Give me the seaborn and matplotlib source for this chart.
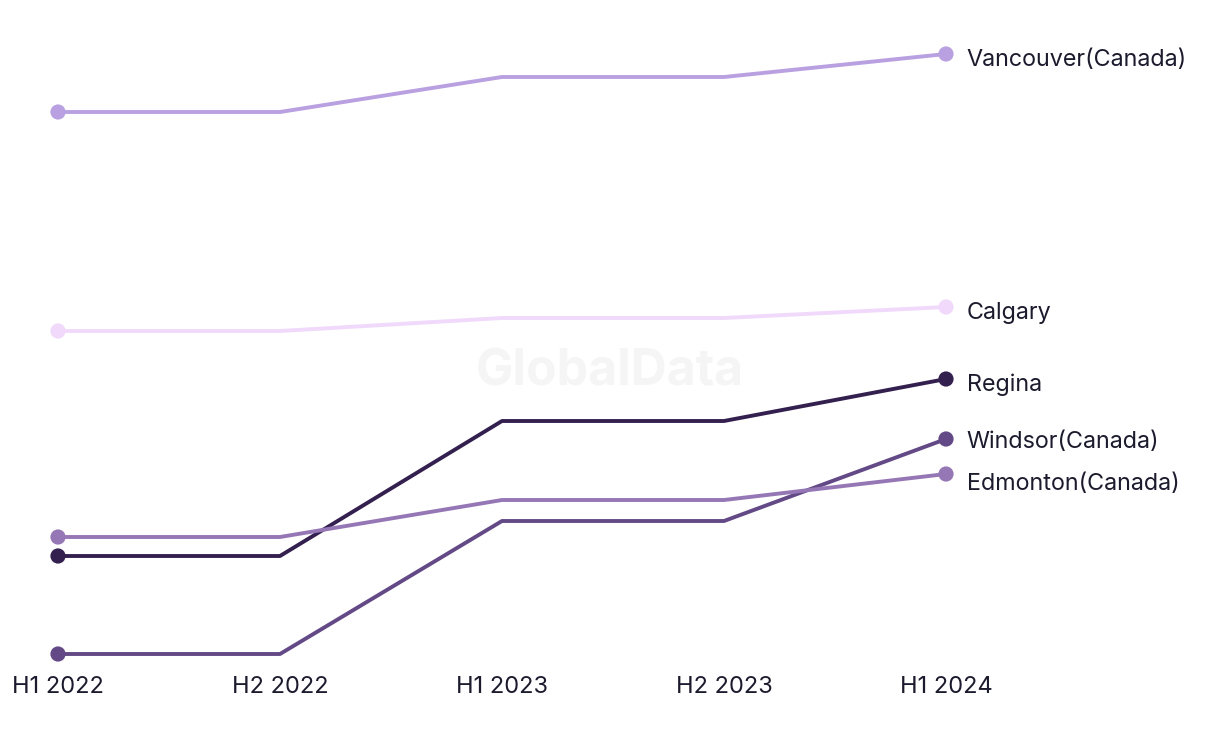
import matplotlib
matplotlib.use("Agg")
import matplotlib.pyplot as plt
import pandas as pd
import seaborn as sns

periods = ["H1 2022", "H2 2022", "H1 2023", "H2 2023", "H1 2024"]
cities = ["Vancouver(Canada)", "Calgary", "Regina", "Windsor(Canada)", "Edmonton(Canada)"]

vancouver = [58.8, 58.8, 62.3, 62.3, 64.6]
calgary = [36.9, 36.9, 38.2, 38.2, 39.3]
regina = [14.4, 14.4, 27.9, 27.9, 32.1]
windsor = [4.6, 4.6, 17.9, 17.9, 26.1]
edmonton = [16.3, 16.3, 20.0, 20.0, 22.6]

colors = {
    "Vancouver(Canada)": "#b9a0e0",
    "Calgary": "#f1d9fb",
    "Regina": "#34204f",
    "Windsor(Canada)": "#634a86",
    "Edmonton(Canada)": "#9677b6",
}
# vertical nudge of end labels (points), keeps close labels apart
label_dy = {"Windsor(Canada)": -2, "Edmonton(Canada)": -7.5}

series = [vancouver, calgary, regina, windsor, edmonton]
rows = []
for city, vals in zip(cities, series):
    for i, (p, v) in enumerate(zip(periods, vals)):
        rows.append({"city": city, "period": p, "x": i, "value": v})
df = pd.DataFrame(rows)

sns.set_style("white")
plt.rcParams["font.family"] = ["Inter", "DejaVu Sans"]

fig = plt.figure(figsize=(12.2, 7.44), dpi=100)
ax = fig.add_axes([58 / 1220, 90 / 744, 888 / 1220, 600 / 744])

# watermark
fig.text(0.5, 0.5, "GlobalData", ha="center", va="center", fontsize=36,
         fontweight="bold", color="#f5f5f5", zorder=0)

sns.lineplot(data=df, x="x", y="value", hue="city", palette=colors,
             linewidth=2.8, legend=False, ax=ax, clip_on=False)

ends = df[df["x"].isin([0, len(periods) - 1])]
sns.scatterplot(data=ends, x="x", y="value", hue="city", palette=colors,
                s=120, linewidth=0, legend=False, ax=ax, clip_on=False, zorder=5)

last = df[df["x"] == len(periods) - 1]
for _, r in last.iterrows():
    ax.annotate(r["city"], (r["x"], r["value"]),
                xytext=(15, label_dy.get(r["city"], -4.5)),
                textcoords="offset points", va="center", ha="left",
                fontsize=16.8, color="#1c1b2e")

ax.set_xlim(0, len(periods) - 1)
ax.set_ylim(4.6, 64.6)
ax.set_xticks(range(len(periods)))
ax.set_xticklabels(periods, fontsize=17, color="#1c1b2e")
ax.tick_params(axis="x", length=0, pad=16)
ax.set_yticks([])
ax.set_xlabel("")
ax.set_ylabel("")
sns.despine(ax=ax, left=True, bottom=True)

fig.savefig("out.png", dpi=100)
